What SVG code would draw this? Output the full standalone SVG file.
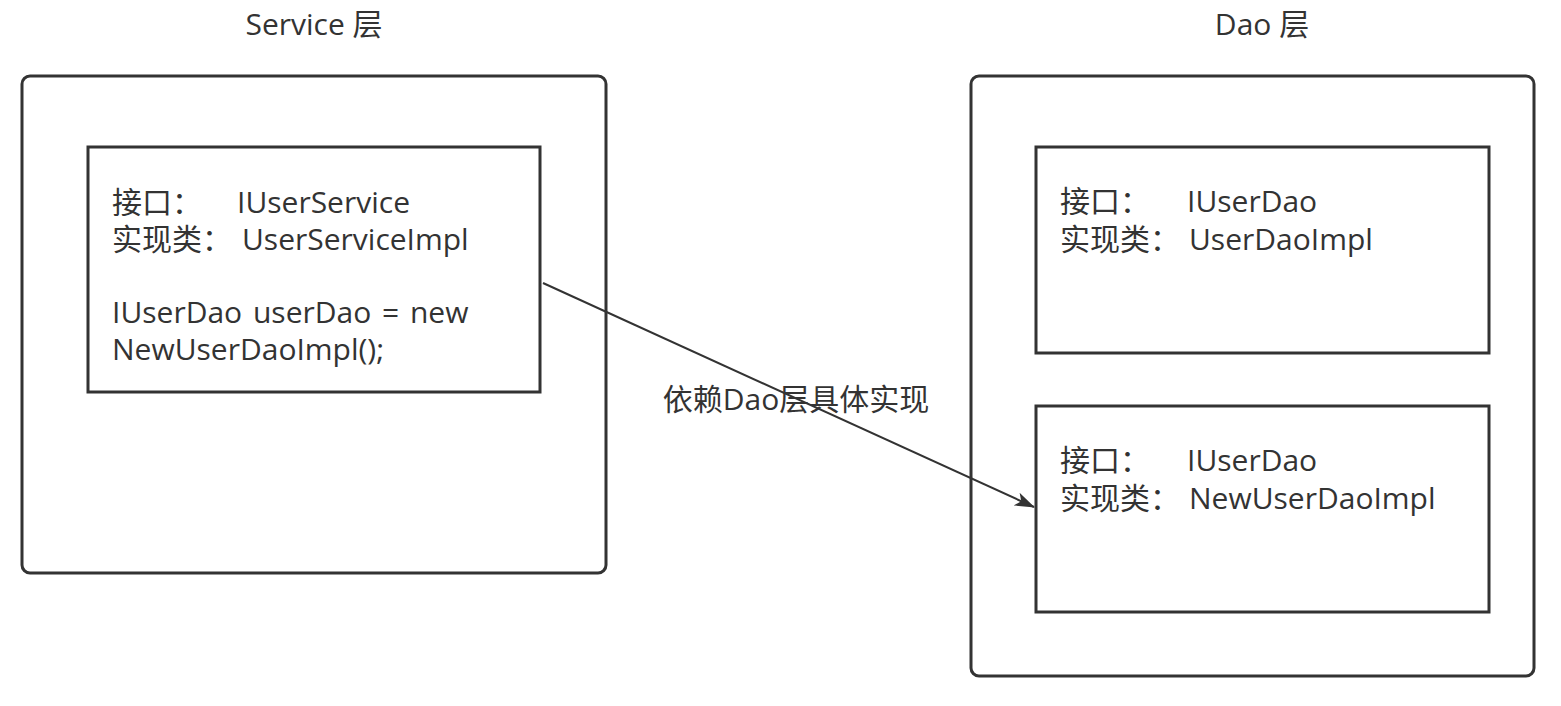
<svg xmlns="http://www.w3.org/2000/svg" width="1561" height="706" viewBox="0 0 1561 706">
<style>
.outer{fill:#fff;stroke:#333;stroke-width:3}
.inner{fill:#fff;stroke:#333;stroke-width:3}
text{font-family:"Open Sans","Noto Sans CJK SC",sans-serif;font-size:30px;fill:#333}
.edge{stroke:#333;stroke-width:2;fill:none}
</style>
<defs>
<marker id="arr" viewBox="0 0 20 14" refX="19" refY="7" markerWidth="20" markerHeight="14" markerUnits="userSpaceOnUse" orient="auto">
<path d="M0,0 L20,7 L0,14 L5,7 Z" fill="#333"/>
</marker>
</defs>
<rect width="1561" height="706" fill="#fff"/>
<g id="service-layer">
<text x="314" y="35" text-anchor="middle">Service 层</text>
<rect class="outer" x="22" y="76" width="584" height="497" rx="8"/>
</g>
<g id="dao-layer">
<text x="1262" y="35" text-anchor="middle">Dao 层</text>
<rect class="outer" x="971" y="76" width="563" height="600" rx="8"/>
</g>
<g id="service-impl">
<rect class="inner" x="88" y="147" width="452" height="245"/>
<text x="112" y="213">接口：</text><text x="237" y="213">IUserService</text>
<text x="112" y="250">实现类：</text><text x="242" y="250">UserServiceImpl</text>
<text x="112" y="323" word-spacing="3">IUserDao userDao = new</text>
<text x="112" y="360">NewUserDaoImpl();</text>
</g>
<g id="user-dao-impl">
<rect class="inner" x="1036" y="147" width="453" height="206"/>
<text x="1060" y="212">接口：</text><text x="1187" y="212">IUserDao</text>
<text x="1060" y="250">实现类：</text><text x="1189" y="250">UserDaoImpl</text>
</g>
<g id="new-user-dao-impl">
<rect class="inner" x="1036" y="406" width="453" height="206"/>
<text x="1060" y="471">接口：</text><text x="1187" y="471">IUserDao</text>
<text x="1060" y="509">实现类：</text><text x="1189" y="509">NewUserDaoImpl</text>
</g>
<g id="connectors">
<line class="edge" x1="543" y1="283" x2="1034" y2="507" marker-end="url(#arr)"/>
<text x="796" y="410" text-anchor="middle">依赖Dao层具体实现</text>
</g>
</svg>
